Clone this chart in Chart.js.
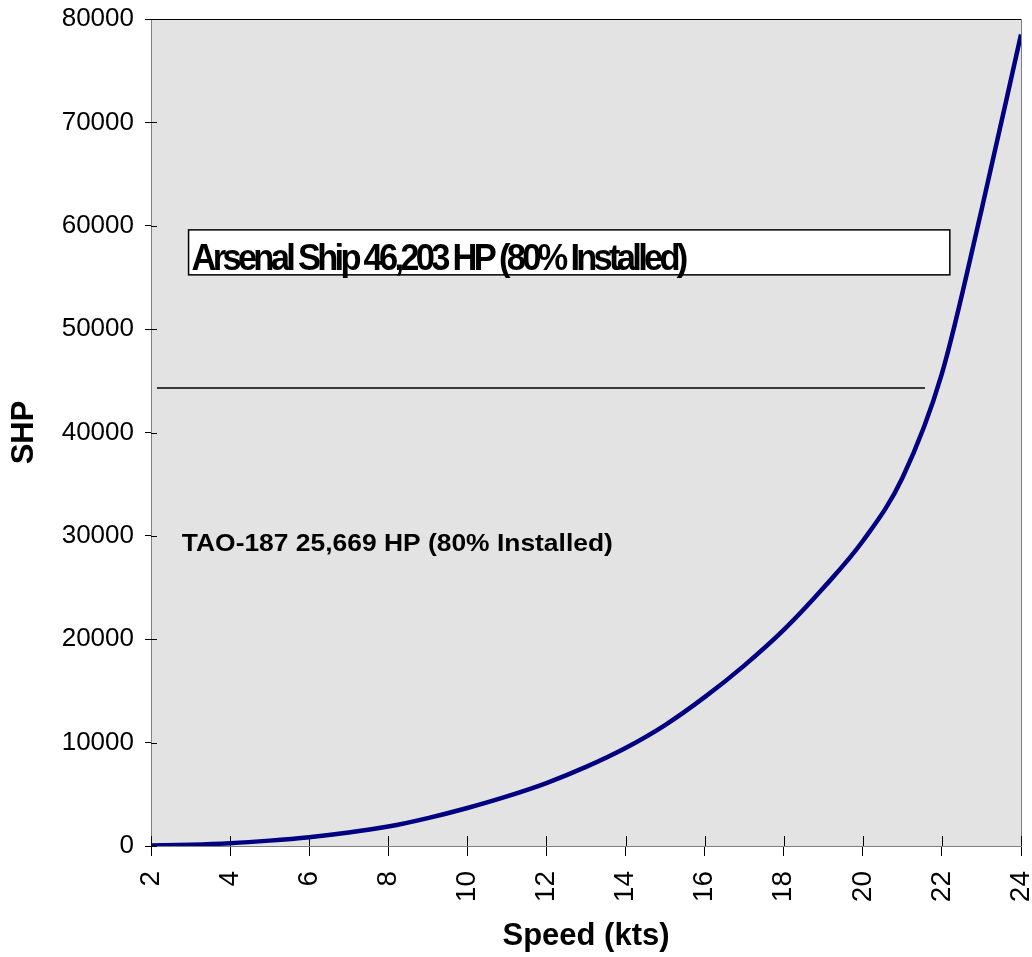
<!DOCTYPE html>
<html>
<head>
<meta charset="utf-8">
<script src="https://cdn.jsdelivr.net/npm/chart.js@4.4.1/dist/chart.umd.min.js"></script>
<style>
  html, body { margin: 0; padding: 0; background: #fff; }
  #wrap { width: 1032px; height: 957px; }
</style>
</head>
<body>
<div id="wrap"><canvas id="shpChart"></canvas></div>
<script>
// Speed vs shaft horsepower curve
const speeds = [2, 3, 4, 5, 6, 7, 8, 9, 10, 11, 12, 13, 14, 15, 16, 17, 18, 19, 20, 21, 22, 23, 24];
const shp = [40, 120, 270, 520, 850, 1300, 1880, 2700, 3680, 4800, 6090, 7650, 9480, 11700, 14400, 17450, 20900, 24950, 29500, 35600, 45700, 61500, 78500];

// Arsenal ship reference line
const arsenalLineX = [2.15, 21.57];
const arsenalLineY = [44300, 44300];

const xTicks = [2, 4, 6, 8, 10, 12, 14, 16, 18, 20, 22, 24];
const yTicks = [0, 10000, 20000, 30000, 40000, 50000, 60000, 70000, 80000];

const arsenalLabel = 'Arsenal Ship 46,203 HP (80% Installed)';
const taoLabel = 'TAO-187 25,669 HP (80% Installed)';

const FONT = '"Liberation Sans", Arial, sans-serif';

// plot background, inner tick marks and the two text labels
const plotDecor = {
    id: 'plotDecor',
    beforeDatasetsDraw(chart) {
        const { ctx, chartArea: a } = chart;
        const xs = chart.scales.x, ys = chart.scales.y;
        ctx.save();
        ctx.fillStyle = '#e3e3e3';
        ctx.fillRect(a.left, a.top, a.right - a.left, a.bottom - a.top);
        ctx.strokeStyle = '#7f7f7f';
        ctx.lineWidth = 1;
        ctx.strokeRect(a.left + 0.5, a.top + 0.5, a.right - a.left, a.bottom - a.top);
        ctx.strokeStyle = '#000';
        ctx.beginPath();
        ctx.moveTo(a.left - 6, a.top + 0.5);
        ctx.lineTo(a.right, a.top + 0.5);
        // inner halves of the crossing ticks
        xTicks.forEach(v => {
            const px = Math.round(xs.getPixelForValue(v)) + 0.5;
            ctx.moveTo(px, a.bottom);
            ctx.lineTo(px, a.bottom - 10);
        });
        yTicks.forEach(v => {
            const py = Math.round(ys.getPixelForValue(v)) + 0.5;
            ctx.moveTo(a.left, py);
            ctx.lineTo(a.left + 6, py);
        });
        ctx.stroke();
        ctx.restore();
    },
    afterDatasetsDraw(chart) {
        const { ctx } = chart;
        const xs = chart.scales.x, ys = chart.scales.y;
        ctx.save();
        // boxed arsenal label
        const bx0 = xs.getPixelForValue(2.95), bx1 = xs.getPixelForValue(22.2);
        const by0 = ys.getPixelForValue(59600), by1 = ys.getPixelForValue(55250);
        ctx.fillStyle = '#fff';
        ctx.fillRect(bx0, by0, bx1 - bx0, by1 - by0);
        ctx.strokeStyle = '#000';
        ctx.lineWidth = 1.5;
        ctx.strokeRect(bx0, by0, bx1 - bx0, by1 - by0);
        ctx.fillStyle = '#000';
        ctx.font = 'bold 37px ' + FONT;
        ctx.letterSpacing = '-4px';
        ctx.textBaseline = 'alphabetic';
        const w = ctx.measureText(arsenalLabel).width;
        ctx.save();
        ctx.translate(bx0 + 3, ys.getPixelForValue(55700));
        ctx.scale(493 / w, 1);
        ctx.fillText(arsenalLabel, 0, 0);
        ctx.restore();
        ctx.letterSpacing = '0px';
        // TAO label
        ctx.font = 'bold 24px ' + FONT;
        const w2 = ctx.measureText(taoLabel).width;
        ctx.save();
        ctx.translate(xs.getPixelForValue(2.78), ys.getPixelForValue(28500));
        ctx.scale(431 / w2, 1);
        ctx.fillText(taoLabel, 0, 0);
        ctx.restore();
        ctx.restore();
    }
};

const ctx = document.getElementById('shpChart').getContext('2d');
new Chart(ctx, {
    type: 'line',
    data: {
        datasets: [
            {
                label: 'SHP',
                data: speeds.map((s, i) => ({ x: s, y: shp[i] })),
                borderColor: '#000080',
                borderWidth: 4.5,
                pointRadius: 0,
                cubicInterpolationMode: 'monotone',
                fill: false
            },
            {
                label: 'Arsenal',
                data: arsenalLineX.map((s, i) => ({ x: s, y: arsenalLineY[i] })),
                borderColor: '#000',
                borderWidth: 1.5,
                pointRadius: 0,
                fill: false
            }
        ]
    },
    options: {
        responsive: true,
        maintainAspectRatio: false,
        animation: false,
        layout: { padding: { top: 19, right: 11, left: 0, bottom: 0 } },
        plugins: {
            legend: { display: false },
            tooltip: { enabled: false },
            title: { display: false }
        },
        scales: {
            x: {
                type: 'linear',
                min: 2,
                max: 24,
                afterBuildTicks: scale => { scale.ticks = xTicks.map(v => ({ value: v })); },
                afterFit: scale => {
                    scale.height = 111;
                    scale.paddingLeft = 0;
                    scale.paddingRight = 0;
                },
                border: { display: true, color: '#000', width: 1 },
                grid: { drawOnChartArea: false, drawTicks: true, color: '#000', tickLength: 10 },
                ticks: {
                    minRotation: 90,
                    maxRotation: 90,
                    padding: 15,
                    color: '#000',
                    font: { family: FONT, size: 28 }
                },
                title: {
                    display: true,
                    text: 'Speed (kts)',
                    color: '#000',
                    padding: { top: 0, bottom: 2 },
                    font: { family: FONT, size: 31, weight: 'bold' }
                }
            },
            y: {
                min: 0,
                max: 80000,
                afterBuildTicks: scale => { scale.ticks = yTicks.map(v => ({ value: v })); },
                afterFit: scale => {
                    scale.width = 151;
                    scale.paddingTop = 0;
                    scale.paddingBottom = 0;
                },
                border: { display: true, color: '#000', width: 1 },
                grid: { drawOnChartArea: false, drawTicks: true, color: '#000', tickLength: 6 },
                ticks: {
                    padding: 11,
                    color: '#000',
                    font: { family: FONT, size: 26 },
                    callback: v => String(v)
                },
                title: {
                    display: true,
                    text: 'SHP',
                    color: '#000',
                    padding: { top: 6, bottom: 0 },
                    font: { family: FONT, size: 31, weight: 'bold' }
                }
            }
        }
    },
    plugins: [plotDecor]
});
</script>
</body>
</html>
